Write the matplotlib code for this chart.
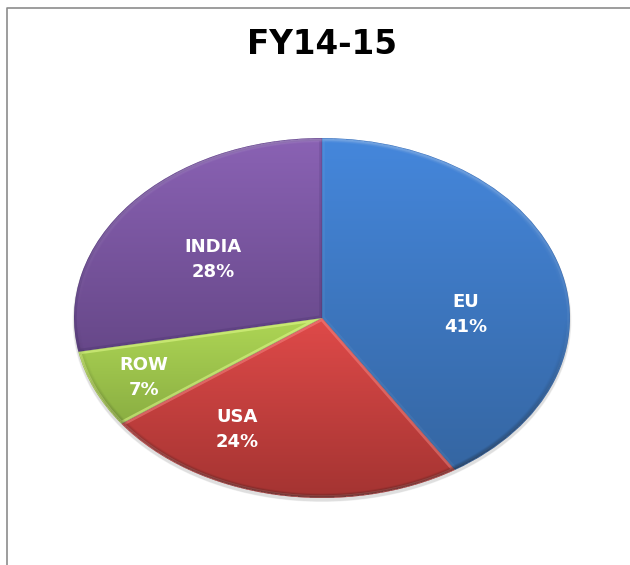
import numpy as np
import matplotlib
matplotlib.use('Agg')
import matplotlib.pyplot as plt
from matplotlib.colors import LinearSegmentedColormap
from matplotlib.patches import Ellipse, PathPatch

W, H = 630, 565

labels = ['EU', 'USA', 'ROW', 'INDIA']
values = [41, 24, 7, 28]
top_colors = ['#4587DC', '#DF4A49', '#AED655', '#8A62B4']
bottom_colors = ['#3566A2', '#A23331', '#8AAE42', '#674889']
bevel_colors = ['#FFFFFF', '#FF9A96', '#E6FF90', '#2A1A50']
bevel_alpha = [0.05, 0.4, 0.5, 0.15]
label_pos = [(0.58, 0.02), (-0.343, -0.62), (-0.718, -0.33), (-0.44, 0.325)]

fig = plt.figure(figsize=(W / 100, H / 100), dpi=100)
fig.patch.set_facecolor('white')

# pie is squashed, so the axes takes the pie's box in pixels
ax = fig.add_axes([74 / W, 1 - 498 / H, 496 / W, 360 / H])

# soft shadow under the pie
for grow, a in [(1.006, 0.05), (1.003, 0.08)]:
    ax.add_patch(Ellipse((0, -0.016), 2 * grow, 2 * grow, color='black', alpha=a,
                         lw=0, zorder=0, clip_on=False))

wedges, _ = ax.pie(values, startangle=90, counterclock=False, radius=1,
                   colors=top_colors)
ax.set_aspect('auto')
ax.axis('off')

# vertical gradient inside every slice, from the slice's own top to bottom
grad = np.linspace(0, 1, 256).reshape(-1, 1)
for i, w in enumerate(wedges):
    ys = w.get_path().transformed(w.get_patch_transform()).vertices[:, 1]
    cmap = LinearSegmentedColormap.from_list('slice', [top_colors[i], bottom_colors[i]])
    im = ax.imshow(grad, extent=[-1, 1, ys.min(), ys.max()], cmap=cmap,
                   aspect='auto', origin='upper', zorder=2)
    im.set_clip_path(w)
    w.set_facecolor('none')
    w.set_edgecolor('none')
    w.set_zorder(1)

    # bevel along the slice sides
    bevel = PathPatch(w.get_path(), transform=w.get_transform(), facecolor='none',
                      edgecolor=bevel_colors[i], alpha=bevel_alpha[i], lw=4, zorder=3)
    ax.add_patch(bevel)
    bevel.set_clip_path(w)
    line = PathPatch(w.get_path(), transform=w.get_transform(), facecolor='none',
                     edgecolor='#1a1a33', alpha=0.25, lw=0.5, zorder=4)
    ax.add_patch(line)
    line.set_clip_path(w)

# rim of the pie: light on top, dark underneath
n = 600
xx, yy = np.meshgrid(np.linspace(-1, 1, n), np.linspace(1, -1, n))
rr = np.sqrt(xx ** 2 + yy ** 2)
edge = np.clip((rr - 0.975) / 0.025, 0, 1) * (rr <= 0.998)
rim = np.zeros((n, n, 4))
rim[..., :3] = np.where((yy > 0)[..., None], 0.95, 0.05)
rim[..., 3] = edge * np.abs(yy) * np.where(yy > 0, 0.3, 0.6)
ax.imshow(rim, extent=[-1, 1, -1, 1], aspect='auto', zorder=3.5)

ax.set_xlim(-1, 1)
ax.set_ylim(-1, 1)

for lab, val, (x, y) in zip(labels, values, label_pos):
    ax.text(x, y, f'{lab}\n{val}%', color='white', fontsize=13,
            fontweight='bold', ha='center', va='center', linespacing=1.5,
            zorder=5)

fig.text(322 / W, 1 - 44.5 / H, 'FY14-15', fontsize=23.5, fontweight='bold',
         color='black', ha='center', va='center')

# chart frame, only left and top show in the crop
fig.add_artist(plt.Line2D([6.5 / W, 6.5 / W, 1], [0, 1 - 8 / H, 1 - 8 / H],
                          color='#8c8c8c', lw=1.2))

fig.savefig('out.png', dpi=100, facecolor=fig.get_facecolor())
